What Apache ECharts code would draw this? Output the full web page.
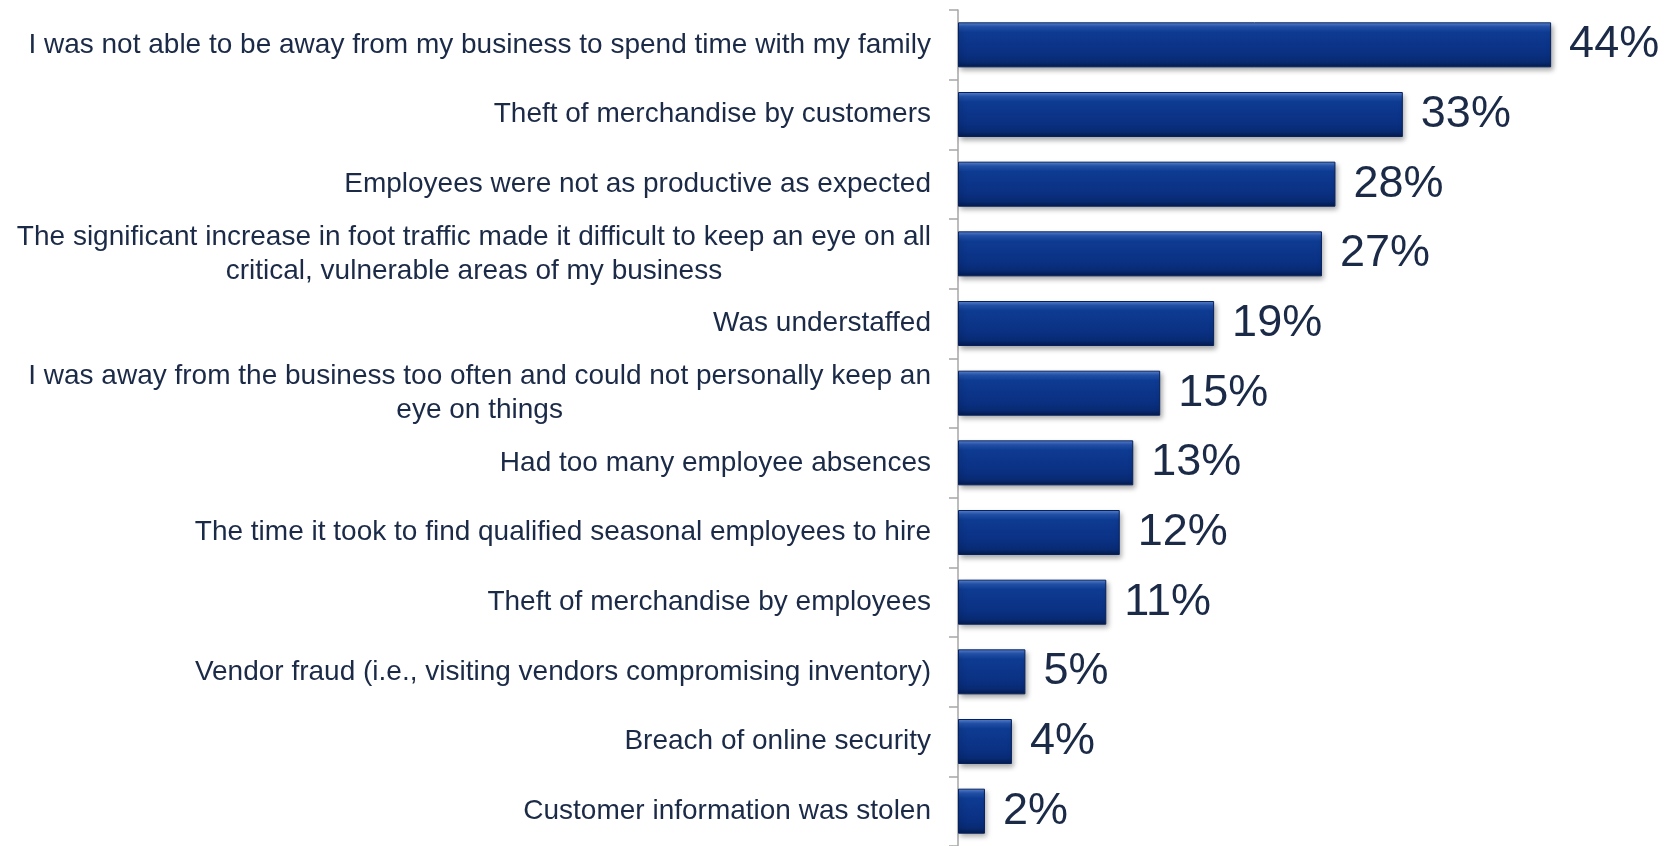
<!DOCTYPE html>
<html>
<head>
<meta charset="utf-8">
<script src="https://cdn.jsdelivr.net/npm/echarts@6/dist/echarts.min.js"></script>
<style>
  html, body { margin: 0; padding: 0; background: #ffffff; }
  #chart { width: 1674px; height: 846px; }
</style>
</head>
<body>
<div id="chart"></div>
<script>
// Reasons cited, top to bottom ("\n" marks a line break inside a label)
const categories = [
  'I was not able to be away from my business to spend time with my family',
  'Theft of merchandise by customers',
  'Employees were not as productive as expected',
  'The significant increase in foot traffic made it difficult to keep an eye on all\ncritical, vulnerable areas of my business',
  'Was understaffed',
  'I was away from the business too often and could not personally keep an\neye on things',
  'Had too many employee absences',
  'The time it took to find qualified seasonal employees to hire',
  'Theft of merchandise by employees',
  'Vendor fraud (i.e., visiting vendors compromising inventory)',
  'Breach of online security',
  'Customer information was stolen'
];

// Share of respondents, percent
const values = [44, 33, 28, 27, 19, 15, 13, 12, 11, 5, 4, 2];

const TEXT = '#1b2a47';
const FONT = '"Liberation Sans", Arial, sans-serif';

const barFill = new echarts.graphic.LinearGradient(0, 0, 0, 1, [
  { offset: 0.00, color: '#5e8ad8' },
  { offset: 0.10, color: '#2453ad' },
  { offset: 0.22, color: '#0e3b92' },
  { offset: 0.70, color: '#0a3082' },
  { offset: 0.88, color: '#082a72' },
  { offset: 1.00, color: '#041a4c' }
]);

const chart = echarts.init(document.getElementById('chart'), null, { renderer: 'canvas' });

chart.setOption({
  backgroundColor: '#ffffff',
  animation: false,
  grid: { left: 958, top: 10, width: 674, height: 840, containLabel: false },
  xAxis: {
    type: 'value',
    min: 0,
    max: 50,
    show: false
  },
  yAxis: {
    type: 'category',
    inverse: true,
    data: categories,
    axisLine: { show: true, lineStyle: { color: '#a6a6a6', width: 1.5 } },
    axisTick: { show: true, length: 9, lineStyle: { color: '#a6a6a6', width: 1.5 } },
    splitLine: { show: false },
    axisLabel: {
      interval: 0,
      margin: 27,
      align: 'right',
      color: TEXT,
      fontFamily: FONT,
      fontSize: 28,
      formatter: function (v) {
        return v.split('\n').map(function (line) { return '{c|' + line + '}'; }).join('\n');
      },
      rich: {
        c: {
          align: 'center',
          color: TEXT,
          fontFamily: FONT,
          fontSize: 28,
          lineHeight: 34
        }
      }
    }
  },
  series: [{
    type: 'bar',
    data: values,
    barWidth: 45,
    itemStyle: {
      color: barFill,
      borderColor: '#06215c',
      borderWidth: 1,
      shadowColor: 'rgba(0,0,0,0.35)',
      shadowBlur: 5,
      shadowOffsetX: 2,
      shadowOffsetY: 3
    },
    label: {
      show: true,
      position: 'right',
      distance: 18,
      formatter: '{c}%',
      color: TEXT,
      fontFamily: FONT,
      fontSize: 45
    }
  }]
});
</script>
</body>
</html>
